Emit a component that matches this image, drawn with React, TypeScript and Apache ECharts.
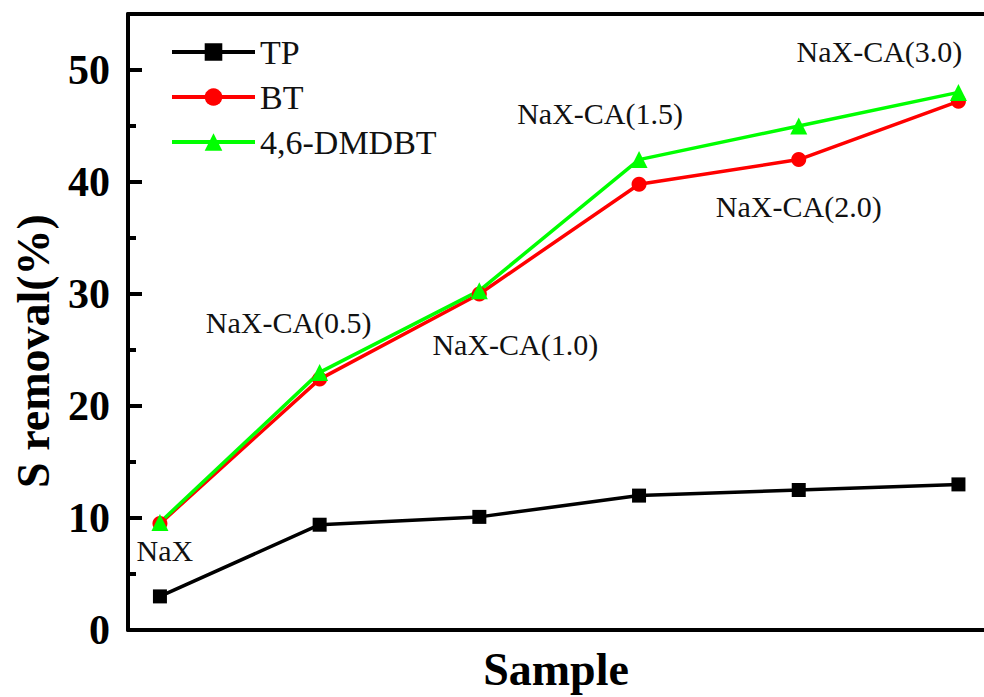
import React, { useEffect, useRef } from "react";
import * as echarts from "echarts";

const samples = ["NaX", "NaX-CA(0.5)", "NaX-CA(1.0)", "NaX-CA(1.5)", "NaX-CA(2.0)", "NaX-CA(3.0)"];
const tpValues = [3.0, 9.4, 10.1, 12.0, 12.5, 13.0];
const btValues = [9.5, 22.4, 30.0, 39.8, 42.0, 47.2];
const dmdbtValues = [9.6, 23.0, 30.3, 42.0, 45.0, 48.0];
const seriesNames = ["TP", "BT", "4,6-DMDBT"];

// label placement (pixel offsets from the 4,6-DMDBT points)
const labelOffsets: [number, number][] = [
  [5, 28],
  [-31, -50],
  [36, 54],
  [-39, -46],
  [0, 80],
  [-79, -41],
];

const SERIF = "'Liberation Serif', 'Times New Roman', serif";

export default function App() {
  const ref = useRef<HTMLDivElement>(null);
  useEffect(() => {
    if (!ref.current) return;
    const chart = echarts.init(ref.current, undefined, { renderer: "svg" });
    const toPairs = (arr: number[]) => arr.map((v, i) => [i, v]);
    chart.setOption({
      animation: false,
      backgroundColor: "#ffffff",
      grid: { left: 128, right: 0, top: 14, bottom: 66.5, containLabel: false },
      legend: {
        orient: "vertical",
        left: 170,
        top: 35,
        padding: 0,
        itemWidth: 83,
        itemHeight: 22,
        itemGap: 11,
        data: seriesNames,
        lineStyle: { width: 4 },
        textStyle: { fontFamily: SERIF, fontSize: 34, color: "#111" },
      },
      xAxis: [
        {
          type: "value",
          min: -0.2,
          max: 5.16,
          name: "Sample",
          nameLocation: "middle",
          nameGap: 16,
          nameTextStyle: { fontFamily: SERIF, fontSize: 46, fontWeight: "bold", color: "#000" },
          axisLine: { show: true, onZero: false, lineStyle: { color: "#000", width: 4 } },
          axisTick: { show: false },
          axisLabel: { show: false },
          splitLine: { show: false },
        },
        {
          type: "value",
          position: "top",
          min: -0.2,
          max: 5.16,
          axisLine: { show: true, onZero: false, lineStyle: { color: "#000", width: 4 } },
          axisTick: { show: false },
          axisLabel: { show: false },
          splitLine: { show: false },
        },
      ],
      yAxis: [
        {
          type: "value",
          position: "left",
          min: 0,
          max: 55,
          interval: 10,
          name: "S removal(%)",
          nameLocation: "middle",
          nameGap: 72,
          nameTextStyle: {
            fontFamily: SERIF,
            fontSize: 46,
            fontWeight: "bold",
            color: "#000",
            padding: [0, 58, 0, 0],
          },
          axisLine: { show: true, onZero: false, lineStyle: { color: "#000", width: 4 } },
          axisTick: { show: true, inside: true, length: 14, lineStyle: { color: "#000", width: 4 } },
          axisLabel: {
            showMaxLabel: false,
            margin: 18,
            fontFamily: SERIF,
            fontSize: 42,
            fontWeight: "bold",
            color: "#000",
          },
          splitLine: { show: false },
        },
        {
          type: "value",
          position: "left",
          min: 0,
          max: 55,
          interval: 5,
          axisLine: { show: false, onZero: false },
          axisTick: { show: true, inside: true, length: 8, lineStyle: { color: "#000", width: 4 } },
          axisLabel: { show: false },
          splitLine: { show: false },
        },
      ],
      series: [
        {
          name: "TP",
          type: "line",
          data: toPairs(tpValues),
          symbol: "rect",
          symbolSize: 14,
          lineStyle: { color: "#000000", width: 3.5 },
          itemStyle: { color: "#000000" },
        },
        {
          name: "BT",
          type: "line",
          data: toPairs(btValues),
          symbol: "circle",
          symbolSize: 15,
          lineStyle: { color: "#ff0000", width: 3.5 },
          itemStyle: { color: "#ff0000" },
        },
        {
          name: "4,6-DMDBT",
          type: "line",
          data: toPairs(dmdbtValues),
          symbol: "triangle",
          symbolSize: 17,
          lineStyle: { color: "#00ff00", width: 3.5 },
          itemStyle: { color: "#00ff00" },
        },
        {
          name: "labels",
          type: "scatter",
          silent: true,
          symbolSize: 1,
          itemStyle: { color: "rgba(0,0,0,0)", opacity: 1 },
          data: dmdbtValues.map((v, i) => ({
            value: [i, v],
            name: samples[i],
            label: { offset: labelOffsets[i] },
          })),
          label: {
            show: true,
            position: "inside",
            formatter: (p: any) => p.name,
            fontFamily: SERIF,
            fontSize: 30,
            color: "#111",
            opacity: 1,
            textBorderWidth: 0,
          },
          z: 5,
        },
      ],
    });
    return () => chart.dispose();
  }, []);
  return (
    <div
      ref={ref}
      style={{ position: "fixed", left: 0, top: 0, width: 984, height: 697, background: "#fff" }}
    />
  );
}
